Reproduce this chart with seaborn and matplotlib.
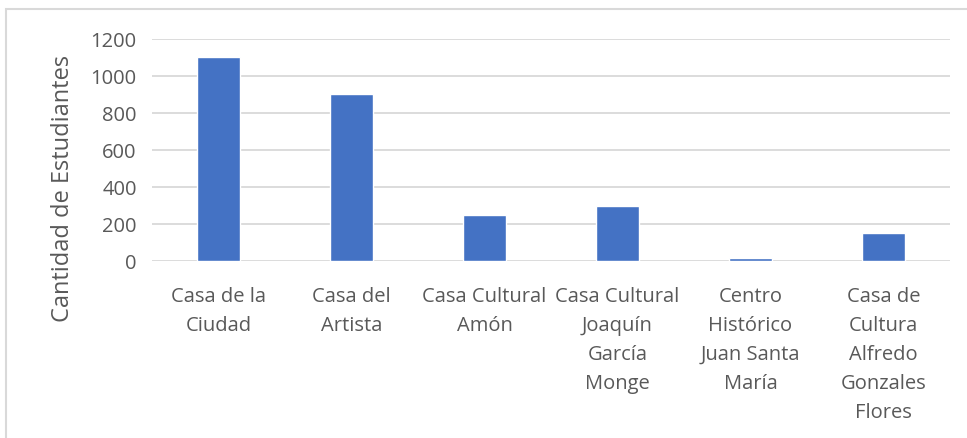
import pandas as pd
import matplotlib.pyplot as plt
import seaborn as sns
from matplotlib.patches import Rectangle

lugares = ['Casa de la\nCiudad', 'Casa del\nArtista', 'Casa Cultural\nAmón',
           'Casa Cultural\nJoaquín\nGarcía\nMonge', 'Centro\nHistórico\nJuan Santa\nMaría',
           'Casa de\nCultura\nAlfredo\nGonzales\nFlores']
estudiantes = [1100, 900, 250, 300, 15, 150]
yticks = [0, 200, 400, 600, 800, 1000, 1200]

df = pd.DataFrame({'lugar': lugares, 'estudiantes': estudiantes})

sns.set_theme(style="white")
plt.rcParams['font.family'] = ['Open Sans', 'DejaVu Sans']

fig = plt.figure(figsize=(9.67, 4.39), dpi=100)
ax = fig.add_axes([152/967, 1 - 262/439, (950 - 152)/967, 222/439])

sns.barplot(data=df, x='lugar', y='estudiantes', ax=ax, color='#4472C4',
            width=0.32, saturation=1)

ax.set_ylim(0, 1200)
ax.set_yticks(yticks)
ax.set_xlim(-0.5, 5.5)
ax.yaxis.grid(True, color='#d9d9d9', linewidth=1.3)
ax.set_axisbelow(True)
for s in ax.spines.values():
    s.set_visible(False)
ax.tick_params(axis='both', length=0, colors='#595959', labelsize=14.5)
ax.tick_params(axis='x', pad=18)
ax.tick_params(axis='y', pad=11)
for lbl in ax.get_xticklabels():
    lbl.set_linespacing(1.6)
    lbl.set_va('top')
ax.set_xlabel('')
ax.set_ylabel('Cantidad de Estudiantes', color='#595959', fontsize=17, labelpad=10)
ax.yaxis.set_label_coords(-0.097, 0.333)

fig.patches.append(Rectangle((6/967, -0.01), 1.0, 1 - 10/439 + 0.01, transform=fig.transFigure,
                             fill=False, edgecolor='#d9d9d9', linewidth=1.5))

fig.savefig('out.png', dpi=100)
